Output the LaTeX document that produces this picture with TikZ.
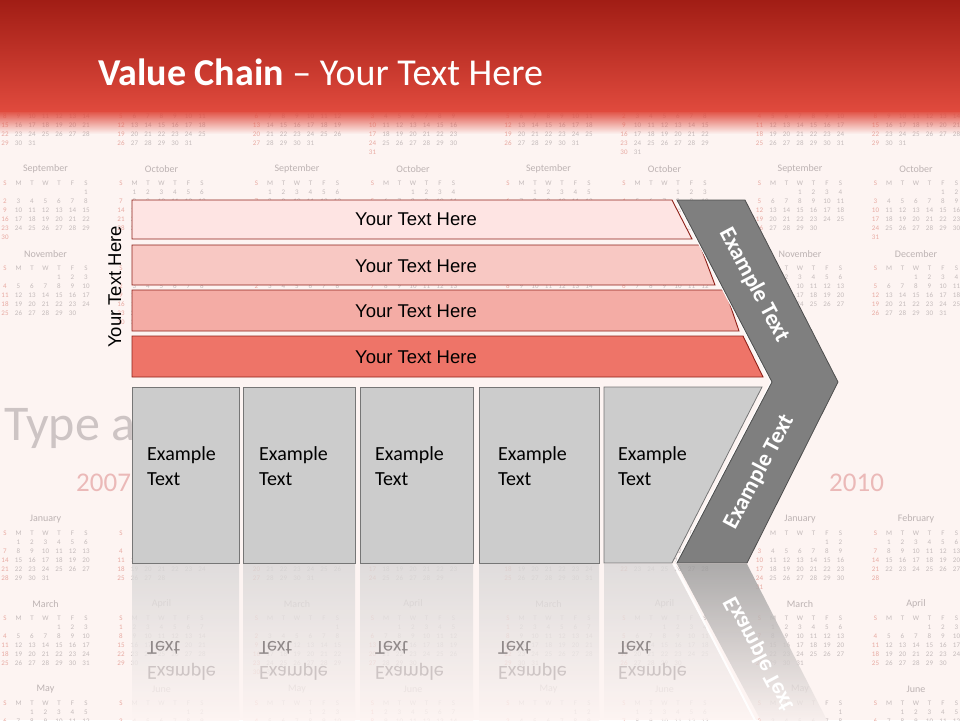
\documentclass[tikz,border=0pt]{standalone}
\usepackage{fontspec}
\setmainfont{Carlito}
\newfontfamily\arialf{Liberation Sans}
\definecolor{bg}{HTML}{FDF4F2}
\definecolor{hdtop}{HTML}{A11D15}
\definecolor{hdbot}{HTML}{E04A3D}
\definecolor{sA}{HTML}{FEE4E3}
\definecolor{sB}{HTML}{F8C8C3}
\definecolor{sC}{HTML}{F4ACA5}
\definecolor{sD}{HTML}{EE7468}
\definecolor{sline}{HTML}{8E2018}
\definecolor{boxfill}{HTML}{CCCCCC}
\definecolor{boxline}{HTML}{767676}
\definecolor{chev}{HTML}{7F7F7F}
\definecolor{chevline}{HTML}{4D4D4D}
\definecolor{faint}{HTML}{CDC4C4}
\definecolor{year}{HTML}{EBB9B8}
\definecolor{reflbox}{HTML}{D9D7D7}
\definecolor{reflchev}{HTML}{999999}
\definecolor{calgray}{HTML}{C4BBBB}
\definecolor{calname}{HTML}{BDB3B3}
\definecolor{calsun}{HTML}{E8AAA2}
\tikzset{
  stripe/.style={draw=sline, line width=0.9pt},
  greybox/.style={draw=boxline, line width=0.8pt, fill=boxfill},
  striptext/.style={font=\arialf\fontsize{18.5}{22}\selectfont, text=black, anchor=base, inner sep=0pt},
  boxtext/.style={font=\fontsize{20}{24}\selectfont, text=black, anchor=base west, inner sep=0pt},
  chevtext/.style={font=\bfseries\fontsize{23}{26}\selectfont, text=white, inner sep=0pt},
  refl/.style={top color=#1, bottom color=bg, opacity=0.8},
  refltext/.style={font=\fontsize{20}{24}\selectfont, anchor=base west, inner sep=0pt, yscale=-1},
  calnum/.style={font=\fontsize{7}{8}\selectfont, inner sep=0pt, anchor=center},
  calmonth/.style={font=\fontsize{10}{11}\selectfont, text=calname, inner sep=0pt, anchor=center},
}
\begin{document}
\begin{tikzpicture}[x=1pt,y=-1pt]
\useasboundingbox (0,0) rectangle (960,720);
% background
\fill[bg] (0,0) rectangle (960,720);
% calendar texture (years 2007-2010)
\foreach \pr/\starts/\lens in {
  0/{1,4,4,0,2,5,0,3,6,1,4,6}/{31,28,31,30,31,30,31,31,30,31,30,31},
  1/{2,5,6,2,4,0,2,5,1,3,6,1}/{31,29,31,30,31,30,31,31,30,31,30,31},
  2/{4,0,0,3,5,1,3,6,2,4,0,2}/{31,28,31,30,31,30,31,31,30,31,30,31},
  3/{5,1,1,4,6,2,4,0,3,5,1,3}/{31,28,31,30,31,30,31,31,30,31,30,31}}{
  \foreach \mm/\mname in {1/January,2/February,3/March,4/April,5/May,6/June,7/July,8/August,9/September,10/October,11/November,12/December}{
    \pgfmathtruncatemacro\stt{{\starts}[\mm-1]}
    \pgfmathtruncatemacro\mlen{{\lens}[\mm-1]}
    \pgfmathtruncatemacro\half{mod(\mm-1,2)}
    \pgfmathtruncatemacro\rw{floor((\mm-1)/2)}
    \pgfmathsetmacro\yo{{519,604,689,84,169,254}[\rw]}
    \pgfmathsetmacro\xl{5+251.5*\pr+116*\half}
    \node[calmonth] at (\xl+40.5,\yo) {\mname};
    \foreach \jj/\wdl in {0/S,1/M,2/T,3/W,4/T,5/F,6/S}{
      \ifnum\jj=0 \def\cc{calsun}\else\def\cc{calgray}\fi
      \node[calnum, text=\cc] at (\xl+13.5*\jj,\yo+14) {\wdl};
    }
    \foreach \dd in {1,...,\mlen}{
      \pgfmathtruncatemacro\pp{\stt+\dd-1}
      \pgfmathtruncatemacro\cl{mod(\pp,7)}
      \pgfmathtruncatemacro\rr{floor(\pp/7)}
      \ifnum\cl=0 \def\cc{calsun}\else\def\cc{calgray}\fi
      \node[calnum, text=\cc] at (\xl+13.5*\cl,\yo+23+9*\rr) {\dd};
    }
  }
}
% header
\shade[top color=hdtop, bottom color=hdbot] (0,0) rectangle (960,111);
\foreach \ii in {0,...,23}{
  \pgfmathsetmacro\op{1-\ii/24}
  \fill[hdbot, opacity=\op] (0,110+\ii) rectangle (960,111.2+\ii);
}
% faint background texts
\node[font=\fontsize{50}{56}\selectfont, text=faint, anchor=base west, inner sep=0pt] (typea) at (4,440) {Type a};
\node[font=\fontsize{27}{30}\selectfont, text=year, anchor=base west, inner sep=0pt] (y2007) at (76,491) {2007};
\node[font=\fontsize{27}{30}\selectfont, text=year, anchor=base west, inner sep=0pt] (y2010) at (829,491) {2010};
% title
\node[font=\fontsize{38}{42}\selectfont, text=white, anchor=base west, inner sep=0pt] (title) at (98,85) {\textbf{Value Chain} – Your Text Here};
% reflections
\shade[refl=reflbox] (132,564) rectangle (239,720);
\shade[refl=reflbox] (243,564) rectangle (355,720);
\shade[refl=reflbox] (360,564) rectangle (473,720);
\shade[refl=reflbox] (479,564) rectangle (599,720);
\shade[refl=reflbox] (604,564) -- (672,564) -- (755,720) -- (604,720) -- cycle;
\shade[refl=reflchev] (677,564) -- (747,564) -- (832,730) -- (766,730) -- cycle;
\draw[white, line width=2pt, opacity=0.9] (674,564) -- (760,730);
\foreach \x/\n in {147/1,259/2,375/3,498/4,618/5}{
  \node[refltext, text=faint!70!black] (rt\n) at (\x,641) {Text};
  \node[refltext, text=faint] (re\n) at (\x,666) {Example};
}
\node[chevtext, text=white, yscale=-1, rotate=62] (rchev) at (759,654) {Example Text};
% stripes
\draw[stripe, fill=sA] (132,200) -- (672,200) -- (692,239) -- (132,239) -- cycle;
\draw[stripe, fill=sB] (132,245) -- (700,245) -- (715,285) -- (132,285) -- cycle;
\draw[stripe, fill=sC] (132,290) -- (725,290) -- (739,331) -- (132,331) -- cycle;
\draw[stripe, fill=sD] (132,336) -- (743,336) -- (763,377) -- (132,377) -- cycle;
\node[striptext] (st1) at (416,225) {Your Text Here};
\node[striptext] (st2) at (416,272) {Your Text Here};
\node[striptext] (st3) at (416,317) {Your Text Here};
\node[striptext] (st4) at (416,363) {Your Text Here};
\node[font=\arialf\fontsize{18.5}{22}\selectfont, rotate=90, anchor=base, inner sep=0pt] (side) at (121,287) {Your Text Here};
% boxes
\draw[greybox] (132,387) rectangle (239,563);
\draw[greybox] (243,387) rectangle (355,563);
\draw[greybox] (360,387) rectangle (473,563);
\draw[greybox] (479,387) rectangle (599,563);
\draw[greybox] (604,387) -- (762,387) -- (672,563) -- (604,563) -- cycle;
\foreach \x/\n in {147/1,259/2,375/3,498/4,618/5}{
  \node[boxtext] (ta\n) at (\x,460) {Example};
  \node[boxtext] (tb\n) at (\x,485) {Text};
}
% chevron
\draw[white, line width=3pt, line join=miter] (677,200) -- (772,382) -- (677,563);
\draw[fill=chev, draw=chevline, line width=0.8pt] (677,200) -- (745,200) -- (838,382) -- (747,563) -- (677,563) -- (772,382) -- cycle;
\node[chevtext, rotate=-62] (ch1) at (754,285) {Example Text};
\node[chevtext, rotate=62] (ch2) at (759,472) {Example Text};
\end{tikzpicture}
\end{document}
